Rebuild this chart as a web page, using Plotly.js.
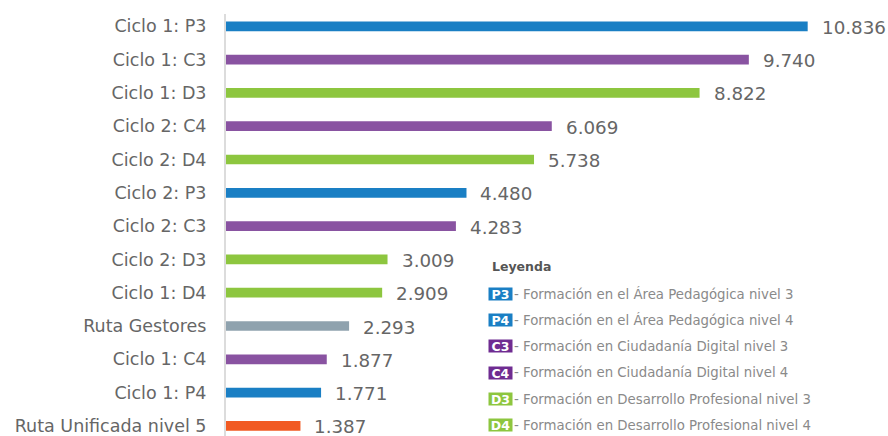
<!DOCTYPE html>
<html><head><meta charset="utf-8">
<script src="https://cdn.plot.ly/plotly-3.0.1.min.js"></script>
<style>html,body{margin:0;padding:0;background:#fff}#chart{width:888px;height:436px}</style>
</head><body><div id="chart"></div>
<script>
const categories = ["Ciclo 1: P3","Ciclo 1: C3","Ciclo 1: D3","Ciclo 2: C4","Ciclo 2: D4","Ciclo 2: P3","Ciclo 2: C3","Ciclo 2: D3","Ciclo 1: D4","Ruta Gestores","Ciclo 1: C4","Ciclo 1: P4","Ruta Unificada nivel 5"];
const values = [10836, 9740, 8822, 6069, 5738, 4480, 4283, 3009, 2909, 2293, 1877, 1771, 1387];
const groups = ["P","C","D","C","D","P","C","D","D","G","C","P","U"];
const legendCodes = ["P3","P4","C3","C4","D3","D4"];
const legendTexts = ["- Formación en el Área Pedagógica nivel 3","- Formación en el Área Pedagógica nivel 4","- Formación en Ciudadanía Digital nivel 3","- Formación en Ciudadanía Digital nivel 4","- Formación en Desarrollo Profesional nivel 3","- Formación en Desarrollo Profesional nivel 4"];

const barColors = {P:"#1a7fc4", C:"#8953a1", D:"#8dc63f", G:"#8fa2ae", U:"#f15a22"};
const badgeColors = {P:"#1a7fc4", C:"#6f2c91", D:"#8dc63f"};
const FONT = "'DejaVu Sans', 'Open Sans', sans-serif";

function fmt(v){ return String(v).replace(/\B(?=(\d{3})+(?!\d))/g, "."); }

// plot area in pixels
const L = 226, T = 14, W = 888 - L, H = 436 - T;
const px = x => (x - L) / W;
const py = y => 1 - (y - T) / H;
const STEP = 33.3, FIRST = 26.3;

const annotations = [];
categories.forEach((c, i) => {
  annotations.push({x: values[i], y: c, xref: "x", yref: "y", text: fmt(values[i]),
    showarrow: false, xanchor: "left", yanchor: "middle", xshift: 12, yshift: -1,
    font: {family: FONT, size: 18.3, color: "#666"}});
});
annotations.push({x: px(490), y: py(266), xref: "paper", yref: "paper", text: "<b>Leyenda</b>",
  showarrow: false, xanchor: "left", yanchor: "middle", font: {family: FONT, size: 12.5, color: "#555"}});
const rowY = [293.5, 320, 346.3, 372.6, 399, 425];
legendCodes.forEach((code, i) => {
  annotations.push({x: px(488), y: py(rowY[i]), xref: "paper", yref: "paper", text: "<b>" + code + "</b>",
    showarrow: false, xanchor: "left", yanchor: "middle", bgcolor: badgeColors[code[0]],
    borderpad: 0, width: 23, height: 12,
    font: {family: FONT, size: 12.5, color: "#fff"}});
  annotations.push({x: px(513), y: py(rowY[i]), xref: "paper", yref: "paper", text: legendTexts[i],
    showarrow: false, xanchor: "left", yanchor: "middle", borderpad: 0,
    font: {family: FONT, size: 13.3, color: "#8a8a8a"}});
});

const trace = {
  type: "bar", orientation: "h", x: values, y: categories,
  marker: {color: groups.map(g => barColors[g])},
  width: 0.29, hoverinfo: "none"
};

const yTop = -(FIRST - T) / STEP;
const layout = {
  width: 888, height: 436,
  margin: {l: L, r: 0, t: T, b: 0, pad: 0},
  paper_bgcolor: "#fff", plot_bgcolor: "#fff",
  showlegend: false,
  font: {family: FONT},
  xaxis: {range: [0, W / 53.68 * 1000], visible: false, fixedrange: true},
  yaxis: {type: "category", range: [yTop + H / STEP, yTop], showline: true, linecolor: "#dcdcdc", linewidth: 2,
    showgrid: false, zeroline: false, ticks: "", ticklabelstandoff: 14,
    tickfont: {family: FONT, size: 17.5, color: "#666"}, fixedrange: true},
  annotations: annotations
};

Plotly.newPlot("chart", [trace], layout, {displayModeBar: false, staticPlot: true});
</script></body></html>
